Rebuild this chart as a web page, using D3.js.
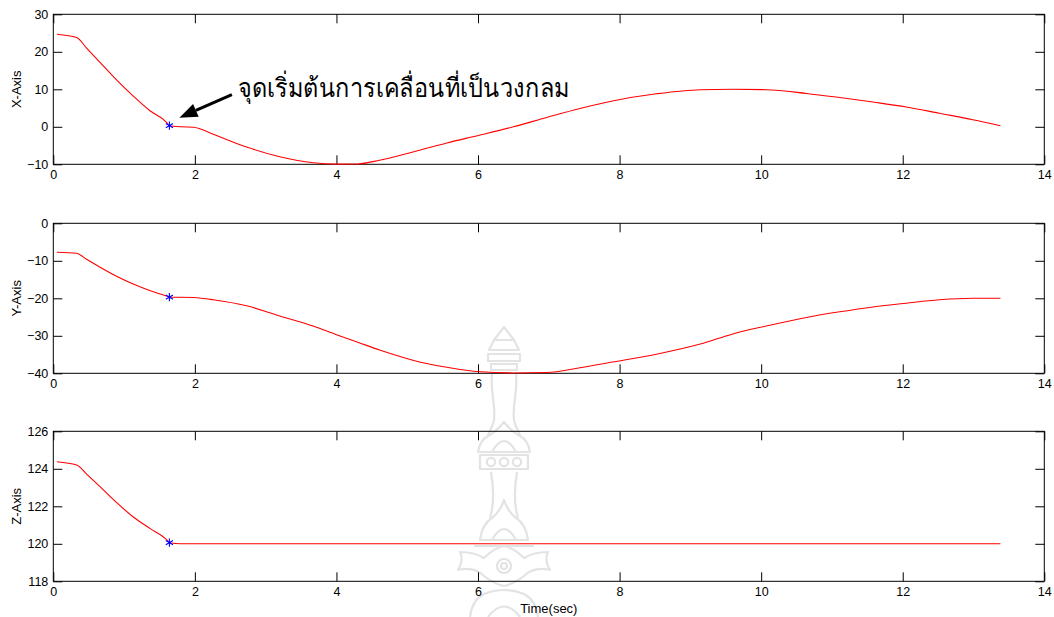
<!DOCTYPE html>
<html>
<head>
<meta charset="utf-8">
<script src="https://cdn.jsdelivr.net/npm/d3@7"></script>
<style>
  body { margin: 0; background: #fff; }
  svg { display: block; }
  text { font-family: "Liberation Sans", Arial, Helvetica, sans-serif; fill: #000; }
</style>
</head>
<body>
<svg id="chart" width="1054" height="617"></svg>
<script>
// Sampled end-effector trajectory (time in seconds, position per axis)
const timeSec = [0.05, 0.33, 0.47, 0.66, 0.90, 1.13, 1.37, 1.60, 1.64, 1.80, 1.98, 2.26, 2.73, 3.20, 3.67, 4.00, 4.30, 4.61, 5.08, 5.56, 6.03, 6.50, 6.97, 7.44, 7.90, 8.52, 9.14, 9.60, 10.07, 10.64, 11.11, 11.58, 12.05, 12.52, 12.99, 13.38];
const xAxisPos = [24.7, 23.8, 21.0, 17.2, 12.4, 8.2, 4.2, 1.2, 0.3, 0.0, -0.1, -2.0, -5.4, -8.0, -9.6, -9.95, -9.9, -8.9, -6.7, -4.3, -2.2, 0.0, 2.5, 4.9, 6.9, 8.8, 9.9, 10.0, 9.9, 8.9, 7.8, 6.6, 5.3, 3.6, 1.9, 0.3];
const yAxisPos = [-7.7, -8.0, -9.6, -11.7, -14.2, -16.2, -18.0, -19.4, -19.7, -19.7, -19.8, -20.4, -22.0, -24.7, -27.4, -29.7, -31.7, -33.8, -36.5, -38.4, -39.6, -39.9, -39.8, -38.5, -37.0, -34.9, -32.2, -29.5, -27.4, -25.1, -23.6, -22.3, -21.3, -20.4, -20.0, -20.0];
const zAxisPos = [124.38, 124.2, 123.72, 123.05, 122.18, 121.43, 120.81, 120.22, 120.06, 120.0, 120.0, 120.0, 120.0, 120.0, 120.0, 120.0, 120.0, 120.0, 120.0, 120.0, 120.0, 120.0, 120.0, 120.0, 120.0, 120.0, 120.0, 120.0, 120.0, 120.0, 120.0, 120.0, 120.0, 120.0, 120.0, 120.0];

// Sample at which the circular motion begins
const circleStartIndex = 8;

const timeTicks = [0, 2, 4, 6, 8, 10, 12, 14];
const xTicks = [-10, 0, 10, 20, 30];
const yTicks = [-40, -30, -20, -10, 0];
const zTicks = [118, 120, 122, 124, 126];

const annotationText = "จุดเริ่มต้นการเคลื่อนที่เป็นวงกลม";
const timeLabel = "Time(sec)";

const svg = d3.select("#chart");
const left = 53.3, right = 1044.3;
const panelH = 150;
const panelTops = [14.3, 223.3, 431.3];
const tickLen = 9;

const xScale = d3.scaleLinear().domain([0, 14]).range([left, right]);

// Faint emblem drawn behind the plots
function drawEmblem(g, cx) {
  const s = g.append("g").attr("fill", "none").attr("stroke", "#e3e3e3").attr("stroke-width", 2.2)
    .attr("stroke-linejoin", "round");
  s.append("path").attr("d", `M${cx},327 L${cx-10},340 L${cx-15},350 L${cx+15},350 L${cx+10},340 Z M${cx-10},340 L${cx+10},340`);
  s.append("path").attr("d", `M${cx-16},354 h32 v7 h-32 Z M${cx-13},364 h26 v6 h-26 Z`);
  s.append("path").attr("d", `M${cx-12},373 C${cx-14},392 ${cx-8},405 ${cx-10},420 C${cx-11},428 ${cx-16},432 ${cx-16},436`);
  s.append("path").attr("d", `M${cx+12},373 C${cx+14},392 ${cx+8},405 ${cx+10},420 C${cx+11},428 ${cx+16},432 ${cx+16},436`);
  s.append("path").attr("d", `M${cx-26},452 Q${cx-24},440 ${cx-16},436 Q${cx-8},432 ${cx},422 Q${cx+8},432 ${cx+16},436 Q${cx+24},440 ${cx+26},452 Z M${cx-12},452 Q${cx},430 ${cx+12},452`);
  s.append("path").attr("d", `M${cx-24},455 h48 v14 h-48 Z`);
  [-13, 0, 13].forEach(d => s.append("circle").attr("cx", cx + d).attr("cy", 462).attr("r", 4.2));
  s.append("path").attr("d", `M${cx-13},472 C${cx-10},490 ${cx-10},505 ${cx-14},518 M${cx+13},472 C${cx+10},490 ${cx+10},505 ${cx+14},518`);
  s.append("path").attr("d", `M${cx-24},540 Q${cx-22},524 ${cx-12},518 Q${cx-4},512 ${cx},500 Q${cx+4},512 ${cx+12},518 Q${cx+22},524 ${cx+24},540 Z M${cx-12},540 Q${cx},518 ${cx+12},540`);
  s.append("path").attr("d", `M${cx-30},546 h60 M${cx-44},552 Q${cx-40},560 ${cx-46},570 Q${cx-30},566 ${cx-20},576 Q${cx-10},584 ${cx},586 Q${cx+10},584 ${cx+20},576 Q${cx+30},566 ${cx+46},570 Q${cx+40},560 ${cx+44},552 Q${cx+30},552 ${cx+20},558 Q${cx+10},548 ${cx},546 Q${cx-10},548 ${cx-20},558 Q${cx-30},552 ${cx-44},552 Z`);
  s.append("circle").attr("cx", cx).attr("cy", 566).attr("r", 7);
  s.append("circle").attr("cx", cx).attr("cy", 566).attr("r", 3);
  s.append("path").attr("d", `M${cx-34},617 Q${cx-32},600 ${cx-20},594 Q${cx-10},590 ${cx},590 Q${cx+10},590 ${cx+20},594 Q${cx+32},600 ${cx+34},617 M${cx-16},617 Q${cx},596 ${cx+16},617`);
}
drawEmblem(svg.append("g"), 504);

const panels = [
  { label: "X-Axis", values: xAxisPos, ticks: xTicks },
  { label: "Y-Axis", values: yAxisPos, ticks: yTicks },
  { label: "Z-Axis", values: zAxisPos, ticks: zTicks }
];

const line = d3.line().curve(d3.curveMonotoneX);

panels.forEach((p, i) => {
  const top = panelTops[i], bottom = top + panelH;
  const yScale = d3.scaleLinear().domain(d3.extent(p.ticks)).range([bottom, top]);
  const g = svg.append("g");

  // inward ticks on all four sides
  const ax = [
    g.append("g").attr("transform", `translate(0,${bottom})`)
      .call(d3.axisBottom(xScale).tickValues(timeTicks).tickFormat(d3.format("d")).tickSize(-tickLen).tickPadding(6)),
    g.append("g").attr("transform", `translate(0,${top})`)
      .call(d3.axisTop(xScale).tickValues(timeTicks).tickFormat("").tickSize(-tickLen)),
    g.append("g").attr("transform", `translate(${left},0)`)
      .call(d3.axisLeft(yScale).tickValues(p.ticks).tickFormat(d3.format("d")).tickSize(-tickLen).tickPadding(5)),
    g.append("g").attr("transform", `translate(${right},0)`)
      .call(d3.axisRight(yScale).tickValues(p.ticks).tickFormat("").tickSize(-tickLen))
  ];
  ax.forEach(a => {
    a.select(".domain").remove();
    a.selectAll(".tick line").attr("stroke", "#000").attr("stroke-width", 1);
    a.selectAll(".tick text").attr("font-size", 12.5).attr("font-family", "Liberation Sans, Arial, sans-serif").attr("fill", "#000");
  });

  g.append("rect").attr("x", left).attr("y", top).attr("width", right - left).attr("height", panelH)
    .attr("fill", "none").attr("stroke", "#000").attr("stroke-width", 1);

  const pts = timeSec.map((t, k) => [xScale(t), yScale(p.values[k])]);
  g.append("path").attr("d", line(pts)).attr("fill", "none").attr("stroke", "#ff0000").attr("stroke-width", 1.1);

  const sp = pts[circleStartIndex];
  g.append("path").attr("d", d3.symbol(d3.symbolAsterisk, 48)())
    .attr("transform", `translate(${sp[0]},${sp[1]})`)
    .attr("fill", "none").attr("stroke", "#0000ff").attr("stroke-width", 1.1);

  g.append("text").attr("transform", `translate(20.5,${(top + bottom) / 2}) rotate(-90)`)
    .attr("text-anchor", "middle").attr("font-size", 13).text(p.label);

  if (i === 0) {
    // arrow pointing at the start of the circular path
    const tip = [sp[0] + 10, sp[1] - 8];
    const tail = [sp[0] + 62.5, sp[1] - 31];
    const ang = Math.atan2(tip[1] - tail[1], tip[0] - tail[0]);
    const headL = 18, headW = 7;
    const base = [tip[0] - headL * Math.cos(ang), tip[1] - headL * Math.sin(ang)];
    g.append("line").attr("x1", tail[0]).attr("y1", tail[1]).attr("x2", base[0]).attr("y2", base[1])
      .attr("stroke", "#000").attr("stroke-width", 3);
    g.append("path").attr("d", d3.line()([
      tip,
      [base[0] + headW * Math.sin(ang), base[1] - headW * Math.cos(ang)],
      [base[0] - headW * Math.sin(ang), base[1] + headW * Math.cos(ang)]
    ]) + "Z").attr("fill", "#000");
    g.append("text").attr("x", sp[0] + 69).attr("y", sp[1] - 28.5)
      .attr("font-size", 26).attr("font-weight", 300)
      .attr("font-family", "'Noto Sans Thai', 'Tahoma', 'DejaVu Sans', sans-serif")
      .attr("textLength", 331).attr("lengthAdjust", "spacingAndGlyphs")
      .text(annotationText);
  }
});

svg.append("text").attr("x", (left + right) / 2).attr("y", 613).attr("text-anchor", "middle")
  .attr("font-size", 13).text(timeLabel);
</script>
</body>
</html>
